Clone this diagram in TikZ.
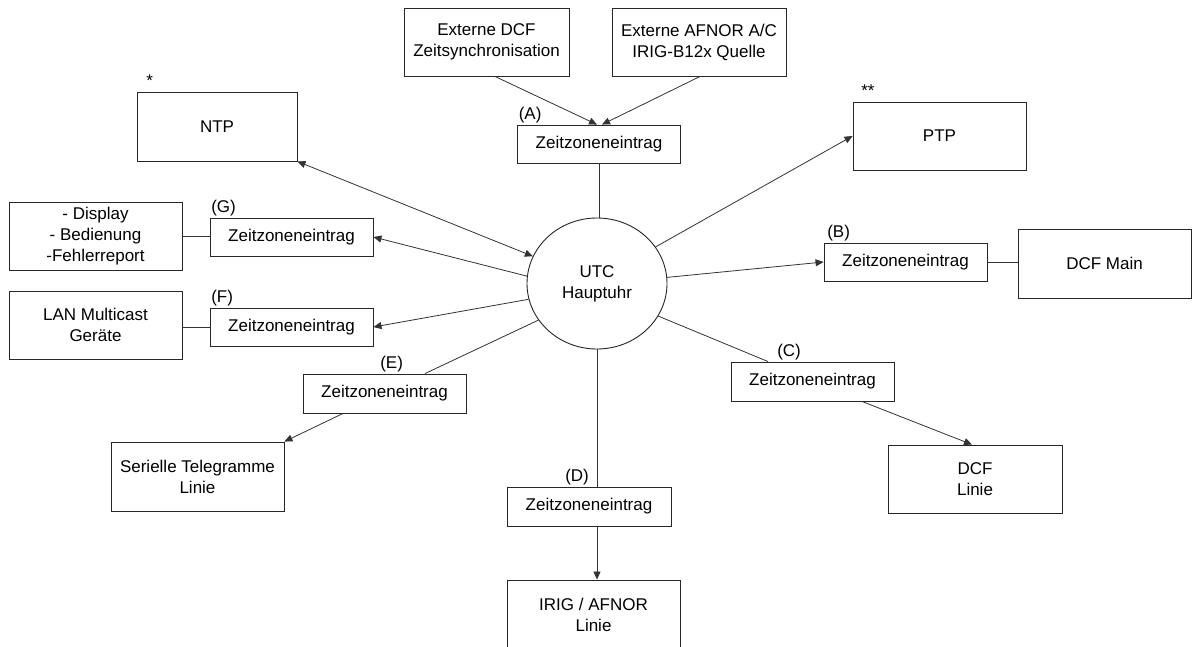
\documentclass[tikz,border=0pt]{standalone}
\usepackage{fontspec}
\setmainfont{Liberation Sans}
\usetikzlibrary{arrows.meta,shapes.geometric}
\tikzset{
  box/.style={draw=black!85, line width=0.9pt, rectangle, align=center, inner sep=0pt, font=\fontsize{17}{21}\selectfont},
  tz/.style={box, minimum width=163pt, minimum height=38pt},
  big/.style={box, minimum width=173pt, minimum height=68pt},
  conn/.style={draw=black!80, line width=0.8pt},
  arr/.style={conn, -{Triangle[length=8pt,width=7pt]}},
  lbl/.style={anchor=south west, inner sep=1.5pt, font=\fontsize{17}{21}\selectfont},
}
\begin{document}
\begin{tikzpicture}[x=1pt,y=-1pt]
\useasboundingbox (0,0) rectangle (1198,646);
\clip (0,0) rectangle (1198,646);
\fill[white] (0,0) rectangle (1198,646);

% nodes
\node[box, minimum width=165pt, minimum height=68pt] (extdcf) at (486.5,42) {Externe DCF\\Zeitsynchronisation};
\node[box, minimum width=174pt, minimum height=68pt] (extafnor) at (699,42) {Externe AFNOR A/C\\IRIG-B12x Quelle};
\node[tz] (zA) at (599,144) {Zeitzoneneintrag};
\node[box, minimum width=160pt, minimum height=69pt] (ntp) at (217,126.5) {NTP};
\node[big] (ptp) at (939.5,136) {PTP};
\node[tz] (zB) at (905.5,262) {Zeitzoneneintrag};
\node[big, minimum height=69pt] (dcfmain) at (1104.5,263.5) {DCF Main};
\node[tz, minimum height=39pt] (zC) at (812.5,381.5) {Zeitzoneneintrag};
\node[big, minimum width=174pt] (dcflinie) at (975,479) {DCF\\Linie};
\node[tz, minimum width=164pt, minimum height=39pt] (zD) at (589,506.5) {Zeitzoneneintrag};
\node[box, minimum width=173pt, minimum height=70pt] (irig) at (593.5,615) {IRIG / AFNOR\\Linie};
\node[tz, minimum height=39pt] (zE) at (384.5,393.5) {Zeitzoneneintrag};
\node[big, minimum height=69pt] (serielle) at (197.5,476.5) {Serielle Telegramme\\Linie};
\node[tz] (zG) at (291.5,237) {Zeitzoneneintrag};
\node[big] (display) at (95.5,236) {- Display\\- Bedienung\\-Fehlerreport};
\node[tz] (zF) at (291.5,327) {Zeitzoneneintrag};
\node[big] (lan) at (95.5,325) {LAN Multicast\\Geräte};
\node[draw=black!85, line width=0.9pt, ellipse, minimum width=140pt, minimum height=131pt, inner sep=0pt, align=center, font=\fontsize{17}{21}\selectfont] (utc) at (597,283.5) {UTC\\Hauptuhr};

% labels
\node[lbl] (lA) at (zA.north west) {(A)};
\node[lbl] (lB) at ([xshift=2pt]zB.north west) {(B)};
\node[lbl] (lC) at ([xshift=45pt]zC.north west) {(C)};
\node[lbl] (lD) at ([xshift=57pt]zD.north west) {(D)};
\node[lbl] (lE) at ([xshift=76pt]zE.north west) {(E)};
\node[lbl] (lF) at (zF.north west) {(F)};
\node[lbl] (lG) at (zG.north west) {(G)};
\node[lbl, yshift=3pt] (sNTP) at ([xshift=8pt]ntp.north west) {*};
\node[lbl, yshift=3pt] (sPTP) at ([xshift=7pt]ptp.north west) {**};

% connectors
\draw[arr] ([xshift=8.5pt]extdcf.south) -- ([xshift=-2pt]zA.north);
\draw[arr] ([xshift=1pt]extafnor.south) -- ([xshift=3pt]zA.north);
\draw[conn] (zA.south) -- (zA.south |- utc.north);
\draw[conn, {Triangle[length=8pt,width=7pt]}-{Triangle[length=8pt,width=7pt]}] (ntp.south east) -- (utc.157);
\draw[arr] (utc.32) -- (ptp.west);
\draw[arr] (utc.5) -- (zB.west);
\draw[conn] (zB.east) -- (zB.east -| dcfmain.west);
\draw[conn] (utc.332) -- ([xshift=-44.5pt]zC.north);
\draw[arr] ([xshift=49.5pt]zC.south) -- ([xshift=-3pt]dcflinie.north);
\draw[conn] (utc.south) -- (utc.south |- zD.north);
\draw[arr] (utc.south |- zD.south) -- (utc.south |- irig.north);
\draw[conn] (utc.212) -- ([xshift=40.5pt]zE.north);
\draw[arr] ([xshift=-41.5pt]zE.south) -- (serielle.north east);
\draw[arr] (utc.174) -- (zG.east);
\draw[conn] (display.east) -- (display.east -| zG.west);
\draw[arr] (utc.193) -- (zF.east);
\draw[conn] (zF.west -| lan.east) -- (zF.west);
\end{tikzpicture}
\end{document}
